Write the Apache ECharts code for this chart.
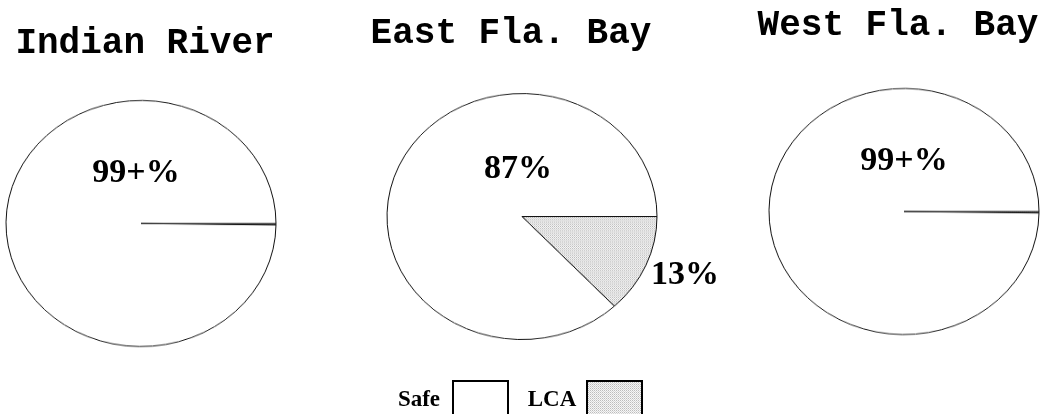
<!DOCTYPE html>
<html>
<head>
<meta charset="utf-8">
<script src="https://cdn.jsdelivr.net/npm/echarts/dist/echarts.min.js"></script>
<style>
  html, body { margin: 0; padding: 0; background: #fff; overflow: hidden; }
  #stage { position: relative; width: 1047px; height: 414px; overflow: hidden; }
  /* pies are drawn round, then flattened vertically into ellipses */
  #pies { position: absolute; left: 0; top: 0; width: 1047px; height: 455px;
          transform-origin: 0 0; transform: scaleY(0.9114); }
  #text { position: absolute; left: 0; top: 0; width: 1047px; height: 414px; }
</style>
</head>
<body>
<div id="stage"><div id="pies"></div><div id="text"></div></div>
<script>
// Share of samples in each class, per site (percent)
const sites   = ['Indian River', 'East Fla. Bay', 'West Fla. Bay'];
const classes = ['Safe', 'LCA'];
const safePct = [99.8, 87, 99.8];
const lcaPct  = [0.2, 13, 0.2];

// Layout (pixels)
const SQUASH = 0.9114;
const R = 135;
const pieCenters = [[141, 223.5], [522, 216.5], [904, 211.5]];
const titlePos   = [[145, 44], [511, 34], [898, 26]];
const safeLabelPos = [[136, 173], [518, 169], [904, 161]];
const lcaLabelPos  = [null, [685, 275.5], null];

// fine grey stipple used for the LCA class
function stipple() {
  const c = document.createElement('canvas');
  c.width = 2; c.height = 2;
  const g = c.getContext('2d');
  g.fillStyle = '#f6f6f6'; g.fillRect(0, 0, 2, 2);
  g.fillStyle = '#bcbcbc'; g.fillRect(0, 0, 1, 1);
  g.fillStyle = '#d6d6d6'; g.fillRect(1, 1, 1, 1);
  return c;
}
const lcaFill = { image: stipple(), repeat: 'repeat' };
const classFill = { Safe: '#ffffff', LCA: lcaFill };

function pctText(v) {
  return Number.isInteger(v) ? v + '%' : Math.floor(v) + '+%';
}

// ---- pies ----
const pieChart = echarts.init(document.getElementById('pies'), null, { renderer: 'canvas' });
pieChart.setOption({
  animation: false,
  series: sites.map((s, i) => ({
    type: 'pie',
    name: s,
    center: [pieCenters[i][0], pieCenters[i][1] / SQUASH],
    radius: [0, R],
    startAngle: 0,
    clockwise: true,
    silent: true,
    avoidLabelOverlap: false,
    label: { show: false },
    labelLine: { show: false },
    itemStyle: { borderColor: '#111', borderWidth: 1 },
    data: [
      { name: 'LCA',  value: lcaPct[i],  itemStyle: { color: classFill.LCA } },
      { name: 'Safe', value: safePct[i], itemStyle: { color: classFill.Safe } }
    ]
  }))
});

// ---- titles, value labels, key ----
const textChart = echarts.init(document.getElementById('text'), null, { renderer: 'canvas' });
const titleFont = 'bold 36px "Liberation Mono", "Courier New", monospace';
const labelFont = 'bold 34px "Liberation Serif", "Times New Roman", serif';
const keyFont   = 'bold 23px "Liberation Serif", "Times New Roman", serif';

const elements = [];
sites.forEach((s, i) => {
  elements.push({ type: 'text', x: titlePos[i][0], y: titlePos[i][1], silent: true,
    style: { text: s, font: titleFont, fill: '#000', textAlign: 'center', textVerticalAlign: 'middle' } });
  elements.push({ type: 'text', x: safeLabelPos[i][0], y: safeLabelPos[i][1], silent: true,
    style: { text: pctText(safePct[i]), font: labelFont, fill: '#000', textAlign: 'center', textVerticalAlign: 'middle' } });
  if (lcaLabelPos[i]) {
    elements.push({ type: 'text', x: lcaLabelPos[i][0], y: lcaLabelPos[i][1], silent: true,
      style: { text: pctText(lcaPct[i]), font: labelFont, fill: '#000', textAlign: 'center', textVerticalAlign: 'middle' } });
  }
});

// key: class name followed by a swatch
const keyItems = [
  { textX: 419, boxX: 453 },
  { textX: 552, boxX: 587 }
];
classes.forEach((c, k) => {
  elements.push({ type: 'text', x: keyItems[k].textX, y: 400, silent: true,
    style: { text: c, font: keyFont, fill: '#000', textAlign: 'center', textVerticalAlign: 'middle' } });
  elements.push({ type: 'rect', silent: true,
    shape: { x: keyItems[k].boxX, y: 381, width: 55, height: 45 },
    style: { fill: classFill[c], stroke: '#000', lineWidth: 2 } });
});

textChart.setOption({ animation: false, graphic: { elements } });
</script>
</body>
</html>
